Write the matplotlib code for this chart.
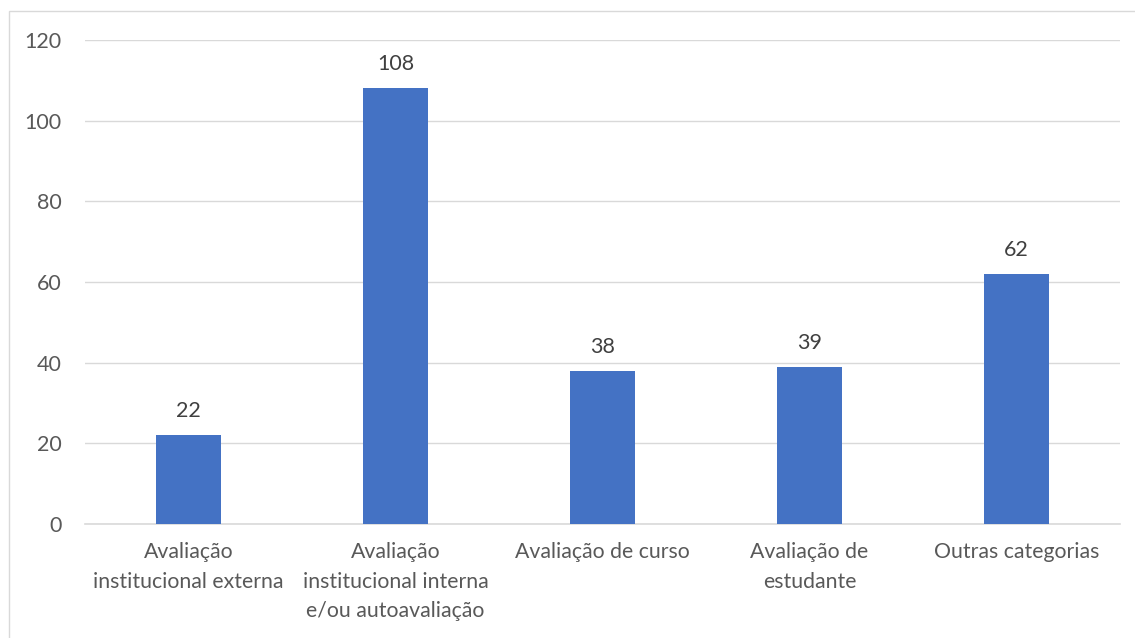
import matplotlib.pyplot as plt
from matplotlib.patches import Rectangle

categorias = [
    "Avaliação\ninstitucional externa",
    "Avaliação\ninstitucional interna\ne/ou autoavaliação",
    "Avaliação de curso",
    "Avaliação de\nestudante",
    "Outras categorias",
]
valores = [22, 108, 38, 39, 62]
yticks = [0, 20, 40, 60, 80, 100, 120]

plt.rcParams['font.family'] = ['Lato', 'DejaVu Sans']
cinza = '#595959'

fig = plt.figure(figsize=(11.35, 6.38), dpi=100)
ax = fig.add_axes([85 / 1135, 1 - 524 / 638, 1035 / 1135, 484 / 638])

x = range(len(valores))
bars = ax.bar(x, valores, width=0.314, color='#4472C4', zorder=3)
for b, v in zip(bars, valores):
    ax.text(b.get_x() + b.get_width() / 2, v + 3.5, str(v), ha='center', va='bottom',
            fontsize=15.5, color='#404040')

ax.set_xlim(-0.5, len(valores) - 0.5)
ax.set_ylim(0, 120)
ax.set_yticks(yticks)
ax.set_xticks(list(x))
ax.set_xticklabels(categorias, fontsize=15.3, color=cinza, linespacing=1.6)
ax.tick_params(axis='y', labelsize=15.5, labelcolor=cinza, length=0, pad=17)
ax.tick_params(axis='x', length=0, pad=13)
ax.grid(axis='y', color='#d9d9d9', linewidth=1, zorder=0)
for s in ['top', 'right', 'left']:
    ax.spines[s].set_visible(False)
ax.spines['bottom'].set_color('#d9d9d9')
ax.spines['bottom'].set_linewidth(1.2)

# moldura do gráfico
fig.patches.append(Rectangle((9 / 1135, -0.01), 1.02, 1 - 11 / 638 + 0.01,
                             transform=fig.transFigure, fill=False,
                             edgecolor='#d9d9d9', linewidth=1))

fig.savefig('out.png', dpi=100)
